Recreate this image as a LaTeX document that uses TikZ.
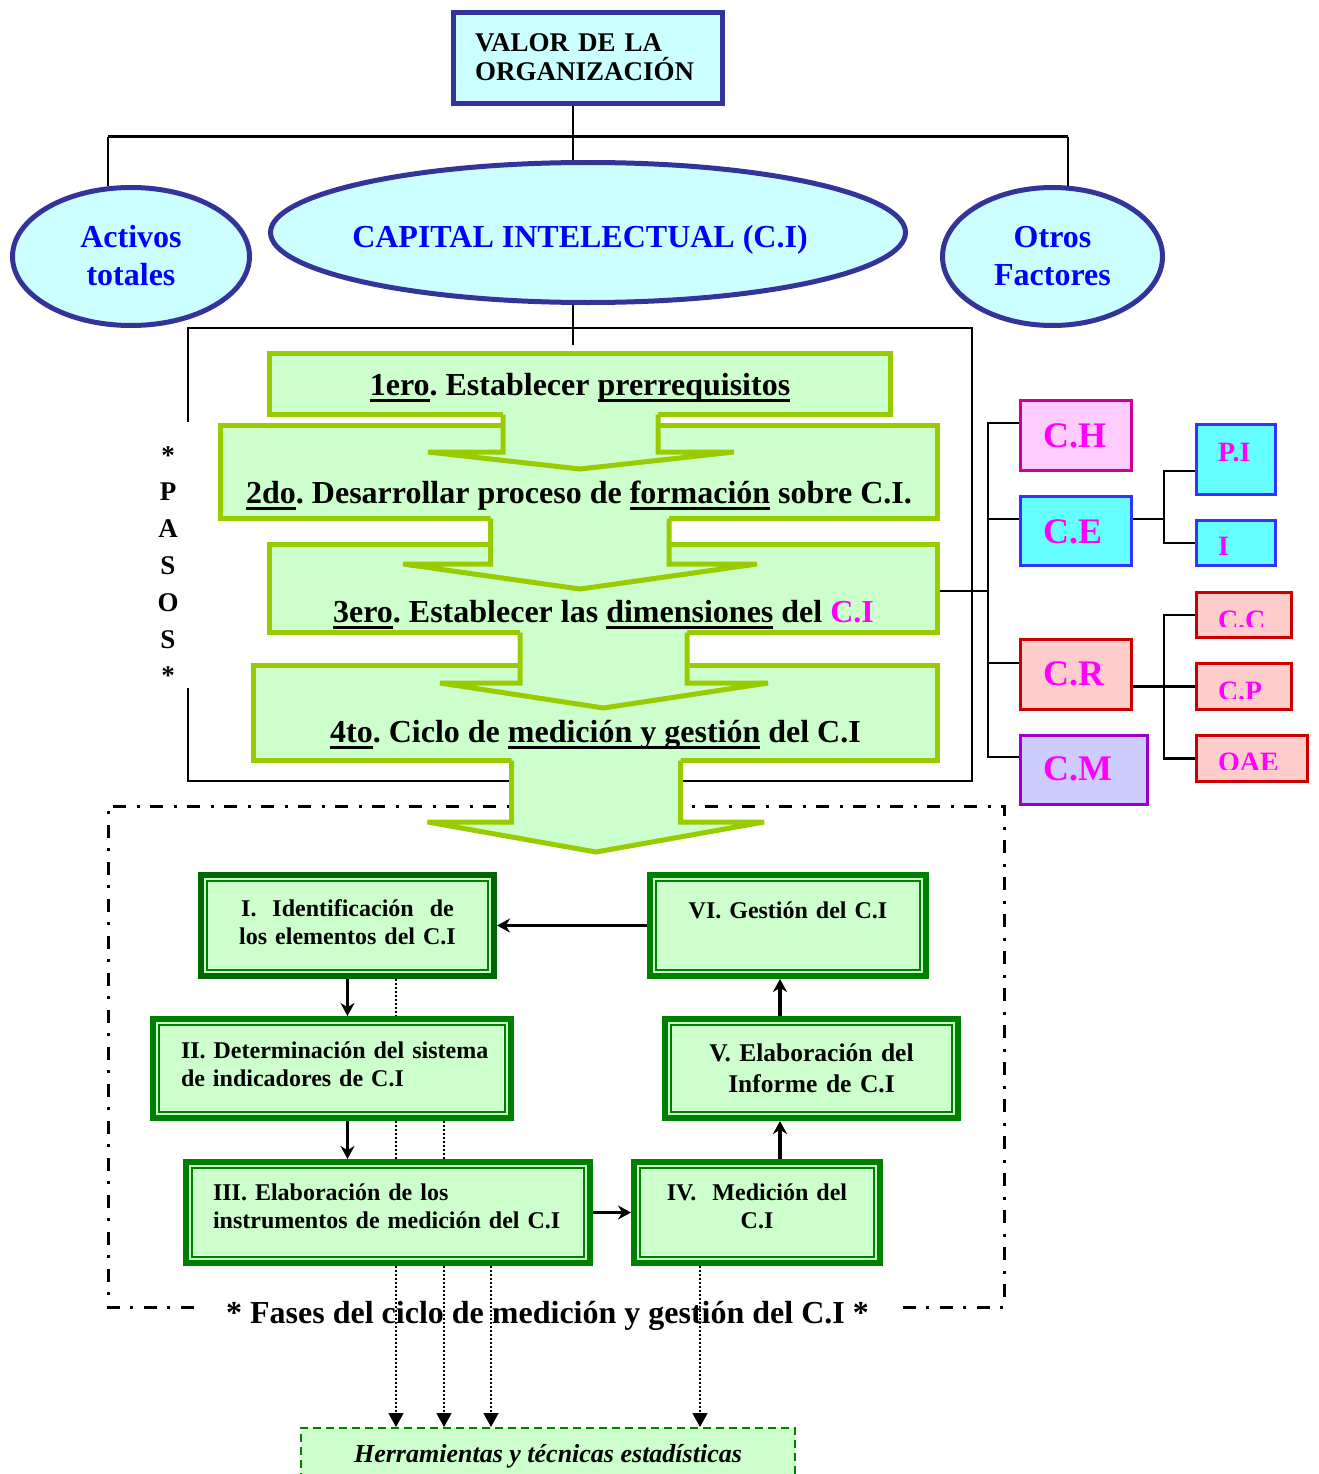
\documentclass[tikz,border=0pt]{standalone}
\usepackage{fontspec}
\setmainfont{Liberation Serif}
\usetikzlibrary{arrows.meta,shapes.geometric}

\definecolor{navyline}{HTML}{333399}
\definecolor{palecyan}{HTML}{CCFFFF}
\definecolor{txtblue}{HTML}{0000FF}
\definecolor{stepline}{HTML}{99CC00}
\definecolor{palegreen}{HTML}{CCFFCC}
\definecolor{phgreen}{HTML}{008000}
\definecolor{phdark}{HTML}{006600}
\definecolor{mag}{HTML}{FF00FF}
\definecolor{chline}{HTML}{CC0099}
\definecolor{chfill}{HTML}{FFCCFF}
\definecolor{celine}{HTML}{3333FF}
\definecolor{cefill}{HTML}{66FFFF}
\definecolor{crline}{HTML}{CC0000}
\definecolor{crfill}{HTML}{FFCCCC}
\definecolor{cmline}{HTML}{9900CC}
\definecolor{cmfill}{HTML}{CCCCFF}

% thick underline placed just under the baseline
\newcommand{\ulbar}[1]{\setbox0=\hbox{#1}\rlap{\rule[-6.5pt]{\wd0}{3pt}}\box0\relax}
\frenchspacing

\begin{document}
\begin{tikzpicture}[x=1pt,y=-1pt,inner sep=0pt,line join=miter,
  bdn/.style={text height=#1, text depth=0pt},
  bup/.style={text height=0pt, text depth=#1},
  conn/.style={draw=black, line width=2.8pt},
  ell/.style={ellipse, draw=navyline, line width=5pt, fill=palecyan, text=txtblue,
    font=\fontsize{32}{38}\selectfont\bfseries, align=center},
  stepbox/.style={rectangle, draw=stepline, fill=palegreen, line width=5pt,
    font=\fontsize{32}{37}\selectfont\bfseries},
  steparrow/.style={draw=stepline, line width=5pt},
  phase/.style={rectangle, draw=phgreen, fill=palegreen, line width=6pt,
    font=\fontsize{24}{28}\selectfont\bfseries,
    path picture={\draw[phgreen, line width=2pt]
      ([shift={(6,6)}]path picture bounding box.north west) rectangle
      ([shift={(-6,-6)}]path picture bounding box.south east);}},
  dimbox/.style={rectangle, line width=3pt, text=mag, align=left,
    font=\fontsize{36}{40}\selectfont\bfseries},
  smallbox/.style={rectangle, line width=3pt, text=mag, align=left,
    font=\fontsize{28}{32}\selectfont\bfseries},
  phar/.style={line width=3.5pt, -{Stealth[length=13pt,width=14pt]}},
  dotline/.style={line width=1.5pt, dash pattern=on 1.5pt off 2.5pt},
  dotar/.style={dotline, -{Triangle[length=14pt,width=15pt]}}]

\useasboundingbox (0,0) rectangle (1318,1474);
\clip (0,0) rectangle (1318,1474);
\fill[white] (0,0) rectangle (1318,1474);

% ---------- top of the tree ----------
\node[rectangle, draw=navyline, line width=5pt, fill=palecyan,
  minimum width=269pt, minimum height=91pt, text width=226pt, align=left,
  font=\fontsize{27}{29}\selectfont\bfseries, bup=12pt] (VO) at (588,58)
  {VALOR DE LA\\ORGANIZACIÓN};

\node[ell, minimum width=237pt, minimum height=138pt, text width=120pt, bup=19pt]
  (AT) at (131,256.5) {Activos\\totales};
\node[ell, minimum width=635pt, minimum height=140pt, bdn=29pt]
  (CI) at (588,232.5) {\makebox[0pt]{CAPITAL INTELECTUAL (C.I)\hspace{16pt}}};
\node[ell, minimum width=220pt, minimum height=138pt, text width=120pt, bup=19pt]
  (OF) at (1052.5,256.5) {Otros\\Factores};

\coordinate (tj) at (572.5,137);
\coordinate (tl) at (108,137);
\coordinate (tr) at (1067.5,137);
\draw[line width=2pt] (VO.south -| tj) -- (tj) -- (CI.north -| tj);
\draw[line width=3pt] (tl) -- (tr);
\draw[line width=2pt] (tl) -- (tl |- AT.108);
\draw[line width=2pt] (tr) -- (tr |- OF.78);

% ---------- bracket holding the steps ----------
\coordinate (bj) at (572.5,345);
\draw[line width=2pt] (CI.south -| bj) -- (bj);

\node[font=\fontsize{27}{36.8}\selectfont\bfseries, text width=30pt, align=center,
  minimum height=266pt, bup=182pt] (PS) at (168,555) {{*}\\P\\A\\S\\O\\S\\{*}};

\coordinate (kTL) at (188,328);
\coordinate (kTR) at (972,328);
\coordinate (kBR) at (972,781);
\coordinate (kBL) at (188,781);
\draw[conn] (kTL |- PS.north) -- (kTL) -- (kTR) -- (kBR) -- (kBL) -- (kBL |- PS.south);

% ---------- dash-dot frame of the phases ----------
\node[font=\fontsize{32}{37}\selectfont\bfseries, minimum width=707pt, bdn=32pt]
  (FA) at (547.5,1307) {* Fases del ciclo de medición y gestión del C.I *};
\coordinate (fTL) at (108,806);
\coordinate (fTR) at (1004,806);
\coordinate (fBL) at (108,1307);
\coordinate (fBR) at (1004,1307);
\draw[line width=3pt, dash pattern=on 13pt off 10.5pt on 3pt off 10.5pt]
  (FA.west) -- (fBL) -- (fTL) -- (fTR) -- (fBR) -- (FA.east);

% ---------- the four steps (drawn bottom-up so each arrow overlaps the next box) ----------
\node[stepbox, minimum width=684pt, minimum height=95pt, bdn=58pt] (S4) at (595.5,713)
  {\ulbar{4to}. Ciclo de \ulbar{medición y gestión} del C.I};
\fill[palegreen] (511.5,757.5) -- (511.5,822) -- (427.5,822) -- (596,852) -- (764,822)
  -- (680.5,822) -- (680.5,757.5) -- cycle;
\draw[steparrow] (511.5,760.5) -- (511.5,822) -- (427.5,822) -- (596,852) -- (764,822)
  -- (680.5,822) -- (680.5,760.5);

\node[stepbox, minimum width=668pt, minimum height=88pt, bdn=67pt] (S3) at (603.5,588.5)
  {\ulbar{3ero}. Establecer las \ulbar{dimensiones} del \textcolor{mag}{C.I}};
\fill[palegreen] (520,629.5) -- (520,683) -- (440,683) -- (603.5,708) -- (768,683)
  -- (687,683) -- (687,629.5) -- cycle;
\draw[steparrow] (520,632.5) -- (520,683) -- (440,683) -- (603.5,708) -- (768,683)
  -- (687,683) -- (687,632.5);

\node[stepbox, minimum width=717pt, minimum height=93pt, bdn=62pt] (S2) at (579,472)
  {\ulbar{2do}. Desarrollar proceso de \ulbar{formación} sobre C.I.};
\fill[palegreen] (490.5,515.5) -- (490.5,564) -- (403,564) -- (580,589) -- (757,564)
  -- (669,564) -- (669,515.5) -- cycle;
\draw[steparrow] (490.5,518.5) -- (490.5,564) -- (403,564) -- (580,589) -- (757,564)
  -- (669,564) -- (669,518.5);

\node[stepbox, minimum width=621pt, minimum height=61pt, bdn=22pt] (S1) at (580,384)
  {\ulbar{1ero}. Establecer \ulbar{prerrequisitos}};
\fill[palegreen] (503,411.5) -- (503,452) -- (428,452) -- (580,469) -- (734,452)
  -- (658,452) -- (658,411.5) -- cycle;
\draw[steparrow] (503,414.5) -- (503,452) -- (428,452) -- (580,469) -- (734,452)
  -- (658,452) -- (658,414.5);

% ---------- dimensions of intellectual capital ----------
\node[dimbox, draw=chline, fill=chfill, minimum width=111pt, minimum height=70pt,
  text width=66pt, bdn=23pt] (CH) at (1076,435.5) {C.H};
\node[dimbox, draw=celine, fill=cefill, minimum width=111pt, minimum height=69pt,
  text width=66pt, bdn=24pt] (CE) at (1076,531) {C.E};
\node[dimbox, draw=crline, fill=crfill, minimum width=111pt, minimum height=70pt,
  text width=66pt, bdn=21pt] (CR) at (1076,674.5) {C.R};
\node[dimbox, draw=cmline, fill=cmfill, minimum width=127pt, minimum height=69pt,
  text width=82pt, bdn=20pt] (CM) at (1084,770) {C.M};

\node[smallbox, draw=celine, fill=cefill, minimum width=79pt, minimum height=70pt,
  text width=36pt, bdn=4.4pt] (PI) at (1236,459.5) {P.I};
\node[smallbox, draw=celine, fill=cefill, minimum width=79pt, minimum height=45pt,
  text width=36pt, bdn=25.4pt] (Ib) at (1236,543) {I};
\node[smallbox, draw=crline, fill=crfill, minimum width=95pt, minimum height=45pt,
  text width=52pt, bdn=28pt] (CC) at (1244,615) {C.C};
\node[smallbox, draw=crline, fill=crfill, minimum width=95pt, minimum height=46pt,
  text width=52pt, bdn=28pt] (CP) at (1244,686.5) {C.P};
\node[smallbox, draw=crline, fill=crfill, minimum width=111pt, minimum height=46pt,
  text width=68pt, bdn=26pt] (OAE) at (1252,758.5) {OAE};
% the lower part of these three labels is hidden by the box
\fill[crfill] ([shift={(3,-3)}]CC.south west) rectangle ([shift={(-3,11.7)}]CC.east);
\fill[crfill] ([shift={(3,-3)}]CP.south west) rectangle ([shift={(-3,12.8)}]CP.east);
\fill[crfill] ([shift={(3,-3)}]OAE.south west) rectangle ([shift={(-3,11.5)}]OAE.east);

\coordinate (rj) at (988,591);
\coordinate (bCH) at ([yshift=12.5pt]CH.west);
\coordinate (bCE) at ([yshift=12pt]CE.west);
\coordinate (bCR) at ([yshift=11.5pt]CR.west);
\coordinate (bCM) at ([yshift=13pt]CM.west);
\draw[conn] (S3.east |- rj) -- (rj);
\draw[conn] (bCH) -- (bCH -| rj) -- (bCM -| rj) -- (bCM);
\draw[conn] (bCE) -- (bCE -| rj);
\draw[conn] (bCR) -- (bCR -| rj);

\coordinate (ej) at (1164,519);
\coordinate (bPI) at ([yshift=-11.5pt]PI.west);
\draw[conn] (CE.east |- ej) -- (ej);
\draw[conn] (bPI) -- (bPI -| ej) -- (Ib.west -| ej) -- (Ib.west);

\coordinate (rk) at (1164,686.5);
\draw[conn] (CR.east |- CP.west) -- (CP.west);
\draw[conn] (CC.west) -- (CC.west -| rk) -- (OAE.west -| rk) -- (OAE.west);

% ---------- phases of the cycle ----------
\node[phase, draw=phdark, minimum width=293pt, minimum height=101pt, text width=270pt,
  align=center, bup=19pt] (P1) at (347.5,925.5)
  {I.\ \ Identificación\ \ de\\los elementos del C.I};
\node[phase, minimum width=276pt, minimum height=101pt, text width=250pt,
  align=center, bup=15pt] (P6) at (788,925.5) {VI. Gestión del C.I\hspace*{8pt}};
\node[phase, minimum width=358pt, minimum height=99pt, text width=302pt,
  align=left, bup=21pt] (P2) at (332,1068.5)
  {\mbox{II. Determinación del sistema}\\\mbox{de indicadores de C.I}};
\node[phase, minimum width=293pt, minimum height=99pt, text width=260pt,
  align=center, font=\fontsize{25.5}{31}\selectfont\bfseries, bup=15pt] (P5) at (811.5,1068.5)
  {V. Elaboración del\\Informe de C.I};
\node[phase, minimum width=404pt, minimum height=101pt, text width=350pt,
  align=left, bup=25pt] (P3) at (388,1212.5)
  {\mbox{III. Elaboración de los}\\\mbox{instrumentos de medición del C.I}};
\node[phase, minimum width=246pt, minimum height=101pt, text width=220pt,
  align=center, bup=25pt] (P4) at (757,1212.5) {IV.\ \ Medición del\\C.I};

\coordinate (ax) at (780,1000);
\draw[phar] (P6.west) -- (P1.east);
\draw[phar] (P1.south) -- (P1.south |- P2.north);
\draw[phar] (P2.south -| P1.south) -- (P3.north -| P1.south);
\draw[phar] (P3.east) -- (P4.west);
\draw[phar] (P4.north -| ax) -- (P5.south -| ax);
\draw[phar] (P5.north -| ax) -- (P6.south -| ax);

% ---------- statistical tools ----------
\node[rectangle, draw=phgreen, line width=2pt, dash pattern=on 8pt off 5pt,
  fill=palegreen, minimum width=494pt, minimum height=72pt,
  font=\fontsize{26}{30}\selectfont\bfseries\itshape, bup=4pt] (H) at (548,1464)
  {Herramientas y técnicas estadísticas};

\coordinate (d1) at (396,1400);
\coordinate (d2) at (444,1400);
\coordinate (d3) at (491,1400);
\coordinate (d4) at (700,1400);
\draw[dotline] (P1.south -| d1) -- (P2.north -| d1);
\draw[dotline] (P2.south -| d1) -- (P3.north -| d1);
\draw[dotar] (P3.south -| d1) -- (H.north -| d1);
\draw[dotline] (P2.south -| d2) -- (P3.north -| d2);
\draw[dotar] (P3.south -| d2) -- (H.north -| d2);
\draw[dotar] (P3.south -| d3) -- (H.north -| d3);
\draw[dotar] (P4.south -| d4) -- (H.north -| d4);

\end{tikzpicture}
\end{document}
